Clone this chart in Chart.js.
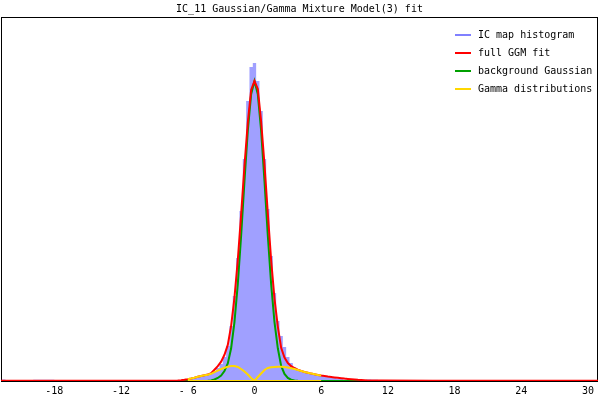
<!DOCTYPE html>
<html>
<head>
<meta charset="utf-8">
<title>IC_11 mixture model fit</title>
<script src="https://cdn.jsdelivr.net/npm/chart.js@4.4.1/dist/chart.umd.min.js"></script>
<style>
    body { margin: 0; background: #fff; }
    .chart-container { position: relative; width: 600px; height: 400px; }
</style>
</head>
<body>
<div class="chart-container"><canvas id="fitChart"></canvas></div>
<script>
// bin centres (IC map z-values), finer in the middle where things happen
var xs = [-22.8, -22.6, -22.2, -20.4, -19.4, -18.4, -17.6, -12, -8,
    -7.2, -6.9, -6.6, -6.3, -6.0, -5.7, -5.4, -5.1, -4.8, -4.5,
    -4.2, -3.9, -3.6, -3.3, -3.0, -2.7, -2.4, -2.1, -1.8, -1.5,
    -1.2, -0.9, -0.6, -0.3, 0, 0.3, 0.6, 0.9, 1.2, 1.5,
    1.8, 2.1, 2.4, 2.7, 3.0, 3.3, 3.6, 3.9, 4.2, 4.5,
    4.8, 5.1, 5.4, 5.7, 6.0, 6.3, 6.6, 6.9, 7.2, 7.5,
    7.8, 8.1, 8.4, 8.7, 9.0, 9.3, 9.6, 9.9, 10.2,
    10.8, 11.4, 16, 30.9];

var histCounts = [0, 1.5, 0, 0, 1.2, 1.2, 0, 0, 0,
    0, 0.3, 0.5, 1, 1.5, 2.5, 3, 4, 4.5, 5.5,
    6.5, 8, 10, 13, 17, 24, 35, 55, 85, 123,
    170, 222, 280, 314, 318, 300, 270, 222, 172, 125,
    88, 60, 45, 34, 24, 18, 14, 11.5, 10, 8.5,
    8, 7, 6, 5.5, 5, 4.5, 4, 3.5, 3, 2.5,
    2, 1.5, 1.3, 1, 0.8, 0.6, 0.5, 0.3, 1.5,
    1.2, 0, 0, 0];

var fullFit = [0.2, 0.2, 0.2, 0.2, 0.2, 0.3, 0.3, 0.3, 0.3,
    0.3, 0.5, 0.8, 1.2, 1.8, 2.5, 3.3, 4.2, 5.0, 5.8,
    6.4, 7.8, 11.3, 14.8, 19.3, 26.2, 36.1, 55.2, 83.4, 121,
    166.6, 215.2, 258.5, 291, 300, 292, 259.5, 216.7, 167.6, 120.7,
    82.4, 54.4, 33.2, 23.5, 18, 14.8, 12.8, 11.3, 10.1, 9,
    8.2, 7.4, 6.7, 6, 5.4, 4.9, 4.4, 4, 3.6, 3.2,
    2.8, 2.4, 2.1, 1.8, 1.5, 1.2, 1.0, 0.8, 0.6,
    0.5, 0.4, 0.3, 0.2];

var bgGauss = [0, 0, 0, 0, 0, 0, 0, 0, 0,
    0, 0, 0, 0, 0, 0, 0, 0, 0, 0,
    0.2, 0.5, 1.5, 3, 5.5, 10, 17.5, 32.7, 58.9, 96.8,
    145.4, 199.8, 250.3, 286.7, 300, 286.7, 250.3, 199.8, 145.4, 96.8,
    58.9, 32.7, 15, 7, 3, 1.3, 0.5, 0.2, 0, 0,
    0, 0, 0, 0, 0, 0, 0, 0, 0, 0,
    0, 0, 0, 0, 0, 0, 0, 0, 0,
    0, 0, 0, 0];

var gammaNeg = [null, null, null, null, null, null, null, null, null,
    null, null, null, null, 1.8, 2.5, 3.3, 4.2, 5.0, 5.7,
    6.2, 7.2, 8.8, 10.3, 11.8, 13.2, 14.3, 15, 15, 14,
    12, 9.5, 6.5, 3, 0, 0, 0, 0, 0, 0,
    0, 0, 0, 0, 0, 0, 0, 0, 0, 0,
    0, 0, 0, 0, 0, null, null, null, null, null,
    null, null, null, null, null, null, null, null, null,
    null, null, null, null];

var gammaPos = [null, null, null, null, null, null, null, null, null,
    null, null, null, null, 0, 0, 0, 0, 0, 0,
    0, 0, 0, 0, 0, 0, 0, 0, 0, 0,
    0, 0, 0, 0, 0, 4, 7.5, 11, 13, 13.7,
    14, 14.2, 14.2, 14, 13.5, 12.8, 12, 11, 10, 9,
    8.2, 7.4, 6.7, 6, 5.4, null, null, null, null, null,
    null, null, null, null, null, null, null, null, null,
    null, null, null, null];

var tickValues = [-18, -12, -6, 0, 6, 12, 18, 24, 30];
var tickLabels = ['-18', '-12', '- 6', '0', '6', '12', '18', '24', '30'];

var monoFont = "'DejaVu Sans Mono', 'Liberation Mono', monospace";

function points(ys) {
    return xs.map(function(x, i) { return {x: x, y: ys[i]}; });
}

// black box round the plot, gnuplot style
var framePlugin = {
    id: 'frame',
    beforeDatasetsDraw: function(chart) {
        var a = chart.chartArea, ctx = chart.ctx;
        ctx.save();
        ctx.strokeStyle = '#000';
        ctx.lineWidth = 1;
        ctx.strokeRect(a.left + 0.5, a.top + 0.5, a.right - a.left - 1, a.bottom - a.top);
        ctx.restore();
    }
};

// key in the top right corner of the plot
var keyPlugin = {
    id: 'insideKey',
    afterDatasetsDraw: function(chart) {
        var a = chart.chartArea, ctx = chart.ctx;
        var y = a.top + 18;
        ctx.save();
        ctx.font = '10px ' + monoFont;
        ctx.textBaseline = 'middle';
        ctx.textAlign = 'left';
        chart.data.datasets.forEach(function(ds) {
            if (ds.noKey) return;
            ctx.strokeStyle = ds.keyColor || ds.borderColor;
            ctx.lineWidth = 2;
            ctx.beginPath();
            ctx.moveTo(a.right - 143, y);
            ctx.lineTo(a.right - 127, y);
            ctx.stroke();
            ctx.fillStyle = '#000';
            ctx.fillText(ds.label, a.right - 120, y);
            y += 18;
        });
        ctx.restore();
    }
};

var fitChart = new Chart(document.getElementById('fitChart'), {
    type: 'line',
    data: {
        datasets: [{
            label: 'IC map histogram',
            data: points(histCounts),
            stepped: 'middle',
            fill: 'origin',
            backgroundColor: 'rgba(128,128,255,0.75)',
            borderColor: 'rgba(0,0,0,0)',
            borderWidth: 0,
            keyColor: '#8080ff',
            pointRadius: 0,
            order: 4
        }, {
            label: 'full GGM fit',
            data: points(fullFit),
            tension: 0,
            fill: false,
            borderColor: '#ff0000',
            borderWidth: 2,
            pointRadius: 0,
            order: 2
        }, {
            label: 'background Gaussian',
            data: points(bgGauss),
            tension: 0,
            fill: false,
            borderColor: '#00a000',
            borderWidth: 2,
            pointRadius: 0,
            order: 3
        }, {
            label: 'Gamma distributions',
            data: points(gammaNeg),
            fill: false,
            tension: 0,
            borderColor: '#ffd700',
            borderWidth: 2,
            pointRadius: 0,
            order: 1
        }, {
            label: 'Gamma distributions',
            data: points(gammaPos),
            fill: false,
            tension: 0,
            borderColor: '#ffd700',
            borderWidth: 2,
            pointRadius: 0,
            noKey: true,
            order: 1
        }]
    },
    options: {
        responsive: true,
        maintainAspectRatio: false,
        animation: false,
        events: [],
        layout: {
            padding: { left: 1, right: 2, top: 0, bottom: -1 }
        },
        plugins: {
            legend: { display: false },
            tooltip: { enabled: false },
            title: {
                display: true,
                text: 'IC_11 Gaussian/Gamma Mixture Model(3) fit',
                color: '#000',
                font: { family: monoFont, size: 10, weight: 'normal' },
                padding: { top: 3, bottom: 2 }
            }
        },
        scales: {
            x: {
                type: 'linear',
                min: -22.8,
                max: 30.9,
                grid: { display: false, drawTicks: false },
                border: { display: false },
                afterBuildTicks: function(scale) {
                    scale.ticks = tickValues.map(function(v) { return {value: v}; });
                },
                ticks: {
                    color: '#000',
                    font: { family: monoFont, size: 10 },
                    padding: 4,
                    autoSkip: false,
                    maxRotation: 0,
                    callback: function(value) {
                        return tickLabels[tickValues.indexOf(value)];
                    }
                }
            },
            y: {
                display: false,
                min: 0,
                max: 364
            }
        }
    },
    plugins: [framePlugin, keyPlugin]
});
</script>
</body>
</html>
